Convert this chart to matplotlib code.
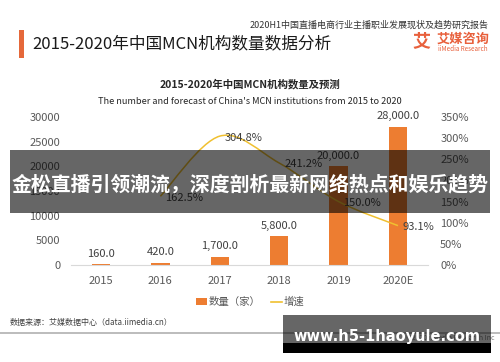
import numpy as np
import matplotlib
matplotlib.use("Agg")
import matplotlib.pyplot as plt
from matplotlib.path import Path
from matplotlib.patches import PathPatch, Rectangle, Patch
from matplotlib.lines import Line2D

plt.rcParams['font.family'] = ['Noto Sans CJK SC', 'DejaVu Sans']

# data
years = ["2015", "2016", "2017", "2018", "2019", "2020E"]
counts = [160, 420, 1700, 5800, 20000, 28000]          # 数量（家）
growth_years = ["2016", "2017", "2018", "2019", "2020E"]
growth = [162.5, 304.8, 241.2, 150.0, 93.1]            # 增速 %
left_ticks = [0, 5000, 10000, 15000, 20000, 25000, 30000]
right_ticks = [0, 50, 100, 150, 200, 250, 300, 350]

ORANGE = "#ED7D31"
YELLOW = "#F0C030"
W, H = 500, 362


def fx(px):
    return px / W


def fy(py):
    return 1 - py / H


fig = plt.figure(figsize=(5, 3.62), dpi=100)
fig.patch.set_facecolor("white")

# header
fig.text(fx(489), fy(25), "2020H1中国直播电商行业主播职业发展现状及趋势研究报告",
         ha="right", va="center", fontsize=6.5, color="#333333")
fig.patches.append(Rectangle((fx(19), fy(58)), fx(5), 28 / H, transform=fig.transFigure,
                             facecolor="#E5683A", edgecolor="none"))
fig.text(fx(32), fy(44), "2015-2020年中国MCN机构数量数据分析",
         ha="left", va="center", fontsize=12, color="#1a1a1a")
fig.text(fx(421), fy(41), "艾", ha="center", va="center", fontsize=13,
         fontweight="bold", color="#E8603C")
fig.text(fx(437), fy(39), "艾媒咨询", ha="left", va="center", fontsize=9.5,
         fontweight="bold", color="#E8603C")
fig.text(fx(438), fy(49), "iiMedia Research", ha="left", va="center", fontsize=4.5,
         color="#E8603C")

# chart titles
fig.text(0.5, fy(84), "2015-2020年中国MCN机构数量及预测", ha="center", va="center",
         fontsize=7.5, fontweight="bold", color="#262626")
fig.text(0.5, fy(101), "The number and forecast of China's MCN institutions from 2015 to 2020",
         ha="center", va="center", fontsize=6.6, color="#262626")

# axes
ax = fig.add_axes([fx(71.3), fy(265), fx(427.7 - 71.3), (265 - 117) / H])
x = np.arange(len(years))
ax.bar(x, counts, width=0.31, color=ORANGE, zorder=2)
ax.set_xlim(-0.5, len(years) - 0.5)
ax.set_ylim(0, 30000)
ax.set_xticks(x)
ax.set_xticklabels(years)
ax.set_yticks(left_ticks)
ax.tick_params(axis="both", length=0, labelsize=8, colors="#595959")
ax.tick_params(axis="y", pad=8)
ax.tick_params(axis="x", pad=8)
for s in ["top", "left", "right"]:
    ax.spines[s].set_visible(False)
ax.spines["bottom"].set_color("#d9d9d9")
ax.spines["bottom"].set_linewidth(0.8)

for xi, v in zip(x, counts):
    ax.annotate(f"{v:,.1f}", (xi, v), xytext=(0, 4), textcoords="offset points",
                ha="center", va="bottom", fontsize=8, color="#404040")

ax2 = ax.twinx()
ax2.set_ylim(0, 350)
ax2.set_yticks(right_ticks)
ax2.set_yticklabels([f"{t}%" for t in right_ticks])
ax2.tick_params(axis="y", length=0, labelsize=8, colors="#595959", pad=9)
for s in ["top", "left", "right", "bottom"]:
    ax2.spines[s].set_visible(False)

# smoothed growth line (bezier through the data points)
gx = np.array([years.index(y) for y in growth_years], dtype=float)
gy = np.array(growth)
pts = np.column_stack([gx, gy])
ext = np.vstack([pts[0], pts, pts[-1]])
verts = [tuple(pts[0])]
codes = [Path.MOVETO]
for i in range(len(pts) - 1):
    p0, p1, p2, p3 = ext[i], ext[i + 1], ext[i + 2], ext[i + 3]
    c1 = p1 + (p2 - p0) / 6
    c2 = p2 - (p3 - p1) / 6
    verts += [tuple(c1), tuple(c2), tuple(p2)]
    codes += [Path.CURVE4] * 3
ax2.add_patch(PathPatch(Path(verts, codes), facecolor="none", edgecolor=YELLOW,
                        lw=1.1, zorder=3))
for xi, v in zip(gx, gy):
    ax2.annotate(f"{v:.1f}%", (xi, v), xytext=(3.5, -1), textcoords="offset points",
                 ha="left", va="center", fontsize=8, color="#404040")

# legend
handles = [Patch(facecolor=ORANGE, edgecolor="none"),
           Line2D([0], [0], color=YELLOW, lw=1.2)]
fig.legend(handles, ["数量（家）", "增速"], loc="center", bbox_to_anchor=(0.5, fy(302)),
           ncol=2, frameon=False, fontsize=7.5, handlelength=1.1, handleheight=0.7,
           handletextpad=0.1, columnspacing=1.0, labelcolor="#595959")

# footer
fig.text(fx(10), fy(323), "数据来源：艾媒数据中心（data.iimedia.cn）", ha="left", va="center",
         fontsize=5.8, color="#404040")
fig.lines.append(Line2D([0, 1], [fy(333), fy(333)], transform=fig.transFigure,
                        color="#b0b0b0", lw=1.2))
fig.text(fx(495), fy(338), "©2020 iiMedia Research Inc", ha="right", va="center",
         fontsize=5, color="#808080")

# overlays
fig.patches.append(Rectangle((fx(10), fy(213)), fx(480), 63 / H, transform=fig.transFigure,
                             facecolor="black", alpha=0.6, edgecolor="none", zorder=10))
fig.text(0.5, fy(184), "金松直播引领潮流，深度剖析最新网络热点和娱乐趋势", ha="center",
         va="center", fontsize=14.3, fontweight="bold", color="white", zorder=11)

fig.patches.append(Rectangle((fx(283), fy(343)), fx(208), 28 / H, transform=fig.transFigure,
                             facecolor="black", alpha=0.6, edgecolor="none", zorder=10))
fig.patches.append(Rectangle((fx(283), fy(353)), fx(208), 10 / H, transform=fig.transFigure,
                             facecolor="black", edgecolor="none", zorder=10))
fig.text(fx(387), fy(337), "www.h5-1haoyule.com", ha="center", va="center",
         fontsize=10.5, fontweight="bold", color="white", family="DejaVu Sans", zorder=11)

fig.savefig("out.png", dpi=100)
